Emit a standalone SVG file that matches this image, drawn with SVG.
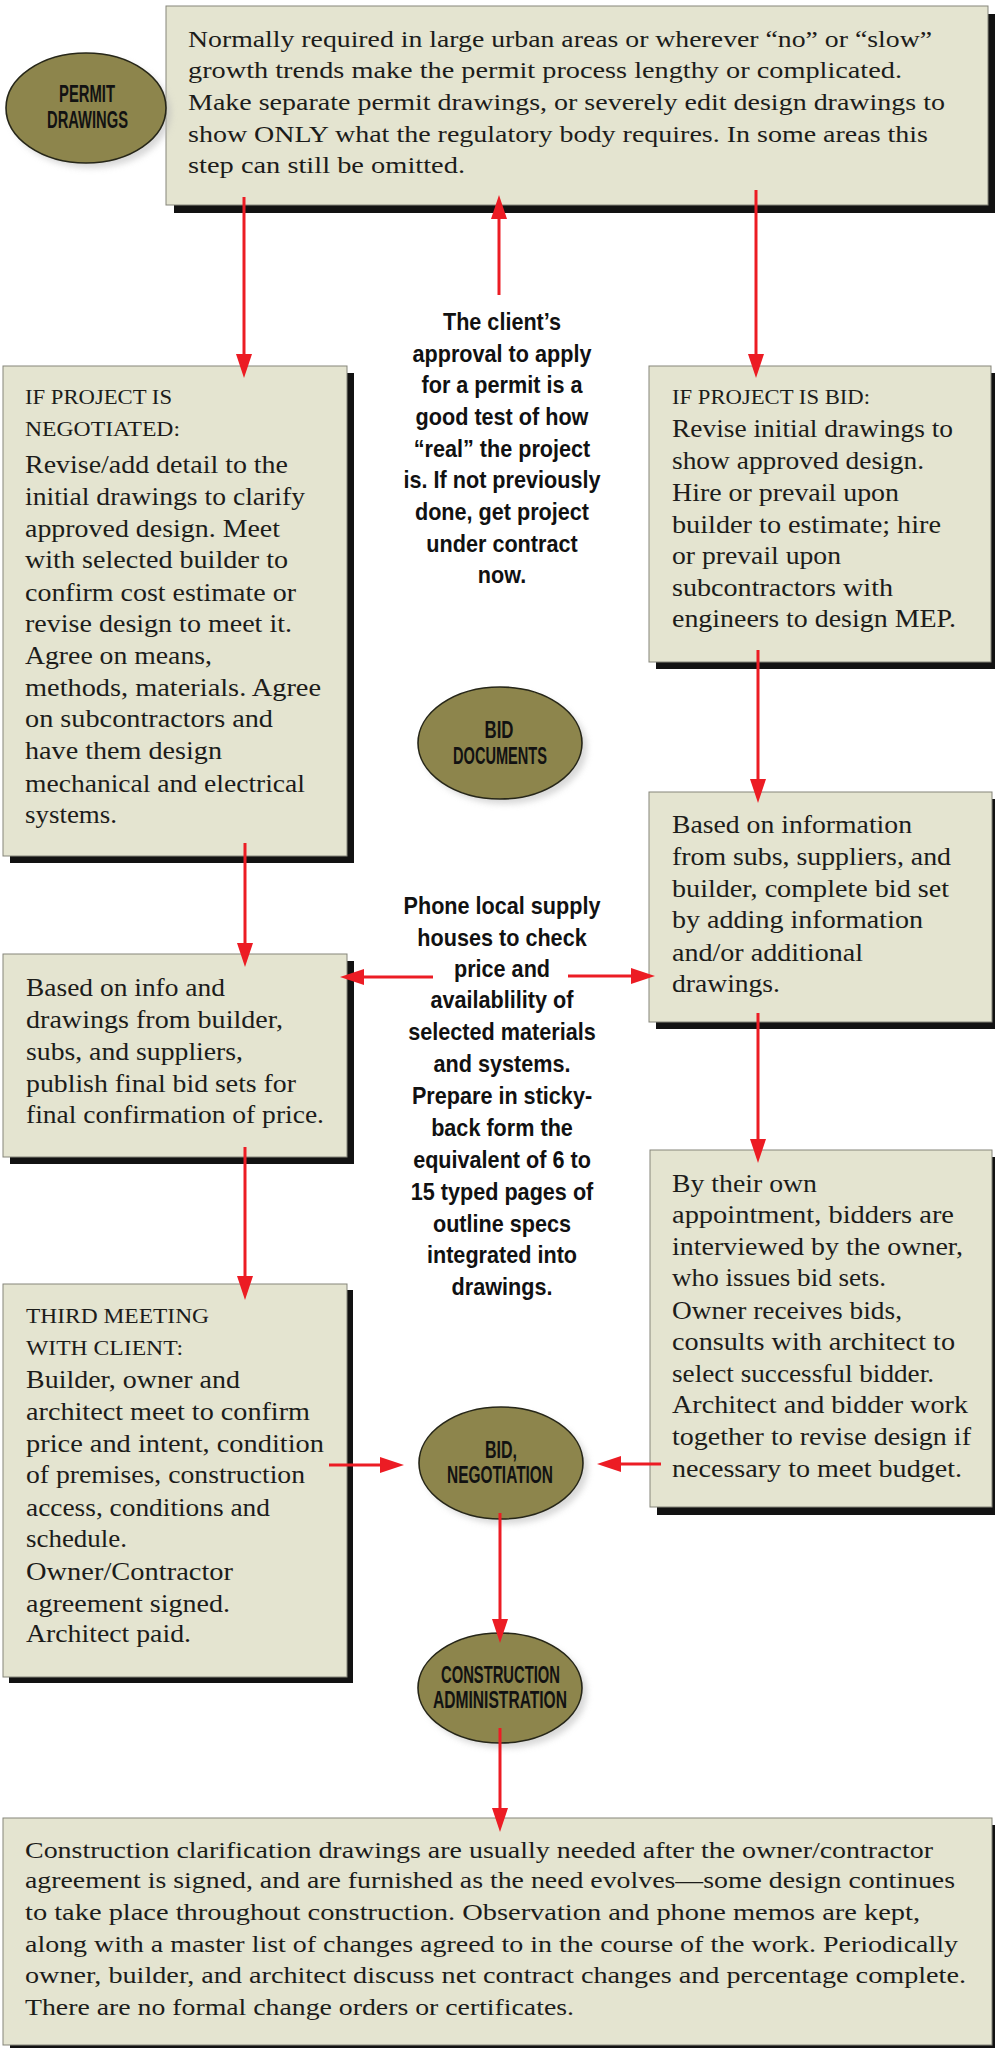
<svg xmlns="http://www.w3.org/2000/svg" width="995" height="2048" viewBox="0 0 995 2048">
<style>
.bg{fill:#ffffff}
.box{fill:#e4e4d0;stroke:#85857a;stroke-width:1}
.sh{fill:#121212}
.t{font-family:"Liberation Serif",serif;font-size:25px;fill:#1c1c1a}
.s24{font-size:24px}
.h{font-size:21px}
.oval{fill:#8d854c;stroke:#262618;stroke-width:1.6}
.oshadow{fill:#b8b8b8;opacity:0.55}
.ol{font-family:"Liberation Sans",sans-serif;font-weight:bold;font-size:24px;fill:#121212;text-anchor:middle}
.c{font-family:"Liberation Sans",sans-serif;font-weight:bold;font-size:23px;fill:#111;text-anchor:middle}
.arr{stroke:#ec1c24;stroke-width:3;fill:none;marker-end:url(#ah)}
</style>
<defs>
<marker id="ah" markerUnits="userSpaceOnUse" markerWidth="26" markerHeight="18" refX="2" refY="8" orient="auto">
<path d="M0,0 L24,8 L0,16 Z" fill="#ec1c24"/>
</marker>
<filter id="blur" x="-20%" y="-20%" width="140%" height="140%"><feGaussianBlur stdDeviation="3"/></filter>
</defs>
<rect class="bg" x="0" y="0" width="995" height="2048"/>

<g id="permit-box">
<rect class="sh" x="174" y="14" width="822" height="199"/>
<rect class="box" x="166" y="6" width="822" height="199"/>
<text class="t s24" x="188" y="47" textLength="744" lengthAdjust="spacingAndGlyphs">Normally required in large urban areas or wherever “no” or “slow”</text>
<text class="t s24" x="188" y="78" textLength="714" lengthAdjust="spacingAndGlyphs">growth trends make the permit process lengthy or complicated.</text>
<text class="t s24" x="188" y="110" textLength="757" lengthAdjust="spacingAndGlyphs">Make separate permit drawings, or severely edit design drawings to</text>
<text class="t s24" x="188" y="142" textLength="740" lengthAdjust="spacingAndGlyphs">show ONLY what the regulatory body requires. In some areas this</text>
<text class="t s24" x="188" y="173" textLength="277" lengthAdjust="spacingAndGlyphs">step can still be omitted.</text>
</g>

<g id="permit-oval">
<ellipse class="oshadow" cx="91" cy="113" rx="80" ry="55" filter="url(#blur)"/>
<ellipse class="oval" cx="86" cy="108" rx="80" ry="55"/>
<text class="ol" x="87" y="102" textLength="56" lengthAdjust="spacingAndGlyphs">PERMIT</text>
<text class="ol" x="87.5" y="128" textLength="81" lengthAdjust="spacingAndGlyphs">DRAWINGS</text>
</g>

<g id="negotiated-box">
<rect class="sh" x="10" y="373" width="344" height="490"/>
<rect class="box" x="3" y="366" width="344" height="490"/>
<text class="t h" x="25" y="404" textLength="147" lengthAdjust="spacingAndGlyphs">IF PROJECT IS</text>
<text class="t h" x="25" y="436" textLength="155" lengthAdjust="spacingAndGlyphs">NEGOTIATED:</text>
<text class="t" x="25" y="473" textLength="263" lengthAdjust="spacingAndGlyphs">Revise/add detail to the</text>
<text class="t" x="25" y="505" textLength="280" lengthAdjust="spacingAndGlyphs">initial drawings to clarify</text>
<text class="t" x="25" y="537" textLength="255" lengthAdjust="spacingAndGlyphs">approved design. Meet</text>
<text class="t" x="25" y="568" textLength="263" lengthAdjust="spacingAndGlyphs">with selected builder to</text>
<text class="t" x="25" y="601" textLength="271" lengthAdjust="spacingAndGlyphs">confirm cost estimate or</text>
<text class="t" x="25" y="632" textLength="267" lengthAdjust="spacingAndGlyphs">revise design to meet it.</text>
<text class="t" x="25" y="664" textLength="187" lengthAdjust="spacingAndGlyphs">Agree on means,</text>
<text class="t" x="25" y="696" textLength="296" lengthAdjust="spacingAndGlyphs">methods, materials. Agree</text>
<text class="t" x="25" y="727" textLength="248" lengthAdjust="spacingAndGlyphs">on subcontractors and</text>
<text class="t" x="25" y="759" textLength="197" lengthAdjust="spacingAndGlyphs">have them design</text>
<text class="t" x="25" y="792" textLength="280" lengthAdjust="spacingAndGlyphs">mechanical and electrical</text>
<text class="t" x="25" y="823" textLength="92" lengthAdjust="spacingAndGlyphs">systems.</text>
</g>

<g id="bid-box">
<rect class="sh" x="656" y="373" width="342" height="296"/>
<rect class="box" x="649" y="366" width="342" height="296"/>
<text class="t h" x="672" y="404" textLength="198" lengthAdjust="spacingAndGlyphs">IF PROJECT IS BID:</text>
<text class="t" x="672" y="437" textLength="281" lengthAdjust="spacingAndGlyphs">Revise initial drawings to</text>
<text class="t" x="672" y="469" textLength="252" lengthAdjust="spacingAndGlyphs">show approved design.</text>
<text class="t" x="672" y="501" textLength="227" lengthAdjust="spacingAndGlyphs">Hire or prevail upon</text>
<text class="t" x="672" y="533" textLength="269" lengthAdjust="spacingAndGlyphs">builder to estimate; hire</text>
<text class="t" x="672" y="564" textLength="169" lengthAdjust="spacingAndGlyphs">or prevail upon</text>
<text class="t" x="672" y="596" textLength="221" lengthAdjust="spacingAndGlyphs">subcontractors with</text>
<text class="t" x="672" y="627" textLength="284" lengthAdjust="spacingAndGlyphs">engineers to design MEP.</text>
</g>

<g id="client-approval-note">
<g transform="translate(502 0) scale(0.94 1)">
<text class="c" x="0" y="330">The client’s</text>
<text class="c" x="0" y="362">approval to apply</text>
<text class="c" x="0" y="393">for a permit is a</text>
<text class="c" x="0" y="425">good test of how</text>
<text class="c" x="0" y="457">“real” the project</text>
<text class="c" x="0" y="488">is. If not previously</text>
<text class="c" x="0" y="520">done, get project</text>
<text class="c" x="0" y="552">under contract</text>
<text class="c" x="0" y="583">now.</text>
</g>
</g>

<g id="bid-documents-oval">
<ellipse class="oshadow" cx="505" cy="748" rx="82" ry="56" filter="url(#blur)"/>
<ellipse class="oval" cx="500" cy="743" rx="82" ry="56"/>
<text class="ol" x="499" y="738" textLength="29" lengthAdjust="spacingAndGlyphs">BID</text>
<text class="ol" x="500" y="764" textLength="94" lengthAdjust="spacingAndGlyphs">DOCUMENTS</text>
</g>

<g id="final-bid-sets-box">
<rect class="sh" x="10" y="961" width="344" height="203"/>
<rect class="box" x="3" y="954" width="344" height="203"/>
<text class="t" x="26" y="996" textLength="199" lengthAdjust="spacingAndGlyphs">Based on info and</text>
<text class="t" x="26" y="1028" textLength="257" lengthAdjust="spacingAndGlyphs">drawings from builder,</text>
<text class="t" x="26" y="1060" textLength="217" lengthAdjust="spacingAndGlyphs">subs, and suppliers,</text>
<text class="t" x="26" y="1092" textLength="270" lengthAdjust="spacingAndGlyphs">publish final bid sets for</text>
<text class="t" x="26" y="1123" textLength="298" lengthAdjust="spacingAndGlyphs">final confirmation of price.</text>
</g>

<g id="complete-bid-set-box">
<rect class="sh" x="656" y="799" width="343" height="230"/>
<rect class="box" x="649" y="792" width="343" height="230"/>
<text class="t" x="672" y="833" textLength="240" lengthAdjust="spacingAndGlyphs">Based on information</text>
<text class="t" x="672" y="865" textLength="279" lengthAdjust="spacingAndGlyphs">from subs, suppliers, and</text>
<text class="t" x="672" y="897" textLength="277" lengthAdjust="spacingAndGlyphs">builder, complete bid set</text>
<text class="t" x="672" y="928" textLength="251" lengthAdjust="spacingAndGlyphs">by adding information</text>
<text class="t" x="672" y="961" textLength="191" lengthAdjust="spacingAndGlyphs">and/or additional</text>
<text class="t" x="672" y="992" textLength="108" lengthAdjust="spacingAndGlyphs">drawings.</text>
</g>

<g id="phone-note">
<g transform="translate(502 0) scale(0.94 1)">
<text class="c" x="0" y="914">Phone local supply</text>
<text class="c" x="0" y="946">houses to check</text>
<text class="c" x="0" y="977">price and</text>
<text class="c" x="0" y="1008">availablility of</text>
<text class="c" x="0" y="1040">selected materials</text>
<text class="c" x="0" y="1072">and systems.</text>
<text class="c" x="0" y="1104">Prepare in sticky-</text>
<text class="c" x="0" y="1136">back form the</text>
<text class="c" x="0" y="1168">equivalent of 6 to</text>
<text class="c" x="0" y="1200">15 typed pages of</text>
<text class="c" x="0" y="1232">outline specs</text>
<text class="c" x="0" y="1263">integrated into</text>
<text class="c" x="0" y="1295">drawings.</text>
</g>
</g>

<g id="bidders-box">
<rect class="sh" x="657" y="1157" width="342" height="358"/>
<rect class="box" x="650" y="1150" width="342" height="357"/>
<text class="t" x="672" y="1192" textLength="145" lengthAdjust="spacingAndGlyphs">By their own</text>
<text class="t" x="672" y="1223" textLength="282" lengthAdjust="spacingAndGlyphs">appointment, bidders are</text>
<text class="t" x="672" y="1255" textLength="291" lengthAdjust="spacingAndGlyphs">interviewed by the owner,</text>
<text class="t" x="672" y="1286" textLength="214" lengthAdjust="spacingAndGlyphs">who issues bid sets.</text>
<text class="t" x="672" y="1319" textLength="230" lengthAdjust="spacingAndGlyphs">Owner receives bids,</text>
<text class="t" x="672" y="1350" textLength="283" lengthAdjust="spacingAndGlyphs">consults with architect to</text>
<text class="t" x="672" y="1382" textLength="262" lengthAdjust="spacingAndGlyphs">select successful bidder.</text>
<text class="t" x="672" y="1413" textLength="296" lengthAdjust="spacingAndGlyphs">Architect and bidder work</text>
<text class="t" x="672" y="1445" textLength="299" lengthAdjust="spacingAndGlyphs">together to revise design if</text>
<text class="t" x="672" y="1477" textLength="290" lengthAdjust="spacingAndGlyphs">necessary to meet budget.</text>
</g>

<g id="third-meeting-box">
<rect class="sh" x="9" y="1290" width="344" height="393"/>
<rect class="box" x="3" y="1284" width="344" height="393"/>
<text class="t h" x="26" y="1323" textLength="183" lengthAdjust="spacingAndGlyphs">THIRD MEETING</text>
<text class="t h" x="26" y="1355" textLength="157" lengthAdjust="spacingAndGlyphs">WITH CLIENT:</text>
<text class="t" x="26" y="1388" textLength="214" lengthAdjust="spacingAndGlyphs">Builder, owner and</text>
<text class="t" x="26" y="1420" textLength="284" lengthAdjust="spacingAndGlyphs">architect meet to confirm</text>
<text class="t" x="26" y="1452" textLength="298" lengthAdjust="spacingAndGlyphs">price and intent, condition</text>
<text class="t" x="26" y="1483" textLength="279" lengthAdjust="spacingAndGlyphs">of premises, construction</text>
<text class="t" x="26" y="1516" textLength="244" lengthAdjust="spacingAndGlyphs">access, conditions and</text>
<text class="t" x="26" y="1547" textLength="101" lengthAdjust="spacingAndGlyphs">schedule.</text>
<text class="t" x="26" y="1580" textLength="207" lengthAdjust="spacingAndGlyphs">Owner/Contractor</text>
<text class="t" x="26" y="1612" textLength="204" lengthAdjust="spacingAndGlyphs">agreement signed.</text>
<text class="t" x="26" y="1642" textLength="165" lengthAdjust="spacingAndGlyphs">Architect paid.</text>
</g>

<g id="bid-negotiation-oval">
<ellipse class="oshadow" cx="506" cy="1468" rx="82" ry="56" filter="url(#blur)"/>
<ellipse class="oval" cx="501" cy="1463" rx="82" ry="56"/>
<text class="ol" x="501" y="1458" textLength="32" lengthAdjust="spacingAndGlyphs">BID,</text>
<text class="ol" x="500" y="1483" textLength="106" lengthAdjust="spacingAndGlyphs">NEGOTIATION</text>
</g>

<g id="construction-admin-oval">
<ellipse class="oshadow" cx="505" cy="1693" rx="82" ry="55" filter="url(#blur)"/>
<ellipse class="oval" cx="500" cy="1688" rx="82" ry="55"/>
<text class="ol" x="500.5" y="1683" textLength="119" lengthAdjust="spacingAndGlyphs">CONSTRUCTION</text>
<text class="ol" x="500" y="1708" textLength="134" lengthAdjust="spacingAndGlyphs">ADMINISTRATION</text>
</g>

<g id="construction-box">
<rect class="sh" x="10" y="1825" width="990" height="230"/>
<rect class="box" x="3" y="1818" width="989" height="227"/>
<text class="t s24" x="25" y="1858" textLength="908" lengthAdjust="spacingAndGlyphs">Construction clarification drawings are usually needed after the owner/contractor</text>
<text class="t s24" x="25" y="1888" textLength="930" lengthAdjust="spacingAndGlyphs">agreement is signed, and are furnished as the need evolves—some design continues</text>
<text class="t s24" x="25" y="1920" textLength="895" lengthAdjust="spacingAndGlyphs">to take place throughout construction. Observation and phone memos are kept,</text>
<text class="t s24" x="25" y="1952" textLength="933" lengthAdjust="spacingAndGlyphs">along with a master list of changes agreed to in the course of the work. Periodically</text>
<text class="t s24" x="25" y="1983" textLength="941" lengthAdjust="spacingAndGlyphs">owner, builder, and architect discuss net contract changes and percentage complete.</text>
<text class="t s24" x="25" y="2015" textLength="549" lengthAdjust="spacingAndGlyphs">There are no formal change orders or certificates.</text>
</g>

<g id="connectors">
<line class="arr" x1="244" y1="197" x2="244" y2="356"/>
<line class="arr" x1="499" y1="295" x2="499" y2="217"/>
<line class="arr" x1="756" y1="190" x2="756" y2="356"/>
<line class="arr" x1="245" y1="843" x2="245" y2="945"/>
<line class="arr" x1="758" y1="650" x2="758" y2="781"/>
<line class="arr" x1="433" y1="977" x2="362" y2="977"/>
<line class="arr" x1="568" y1="976" x2="633" y2="976"/>
<line class="arr" x1="245" y1="1147" x2="245" y2="1278"/>
<line class="arr" x1="758" y1="1013" x2="758" y2="1141"/>
<line class="arr" x1="329" y1="1465" x2="382" y2="1465"/>
<line class="arr" x1="661" y1="1464" x2="619" y2="1464"/>
<line class="arr" x1="500" y1="1513" x2="500" y2="1621"/>
<line class="arr" x1="500" y1="1728" x2="500" y2="1810"/>
</g>
</svg>
